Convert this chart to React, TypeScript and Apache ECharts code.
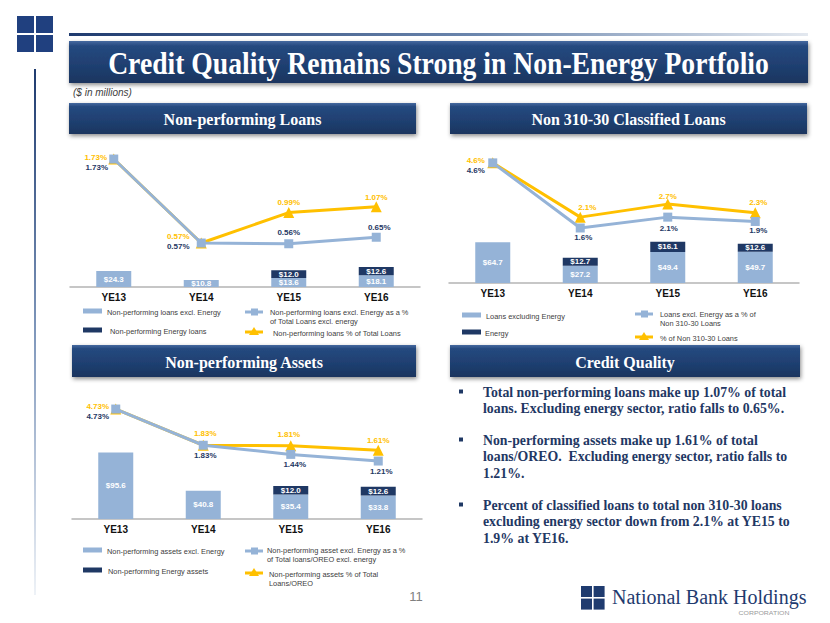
import React, { useEffect, useRef } from "react";
import * as echarts from "echarts";

// ---------- data ----------
const categories = ["YE13", "YE14", "YE15", "YE16"];

// Non-performing Loans ($ in millions, %)
const nplExEnergy = [24.3, 10.8, 13.6, 18.1];
const nplEnergy = [null, null, 12.0, 12.6];
const nplExEnergyPct = [1.73, 0.57, 0.56, 0.65];
const nplTotalPct = [1.73, 0.57, 0.99, 1.07];

// Non 310-30 Classified Loans
const clsExEnergy = [64.7, 27.2, 49.4, 49.7];
const clsEnergy = [null, 12.7, 16.1, 12.6];
const clsExEnergyPct = [4.6, 1.6, 2.1, 1.9];
const clsTotalPct = [4.6, 2.1, 2.7, 2.3];

// Non-performing Assets
const npaExEnergy = [95.6, 40.8, 35.4, 33.8];
const npaEnergy = [null, null, 12.0, 12.6];
const npaExEnergyPct = [4.73, 1.83, 1.44, 1.21];
const npaTotalPct = [4.73, 1.83, 1.81, 1.61];

const titleText = "Credit Quality Remains Strong in Non-Energy Portfolio";
const panelTitles = ["Non-performing Loans", "Non 310-30 Classified Loans", "Non-performing Assets", "Credit Quality"];
const bulletLines = [
  ["Total non-performing loans make up 1.07% of total", "loans. Excluding energy sector, ratio falls to 0.65%."],
  ["Non-performing assets make up 1.61% of total", "loans/OREO.  Excluding energy sector, ratio falls to", "1.21%."],
  ["Percent of classified loans to total non 310-30 loans", "excluding energy sector down from 2.1% at YE15 to", "1.9% at YE16."],
];
const legend1 = ["Non-performing loans excl. Energy", "Non-performing Energy loans", ["Non-performing loans excl. Energy as a %", "of Total Loans excl. energy"], ["Non-performing loans % of Total Loans"]];
const legend2 = ["Loans excluding Energy", "Energy", ["Loans excl. Energy as a % of", "Non 310-30 Loans"], ["% of Non 310-30 Loans"]];
const legend3 = ["Non-performing assets excl. Energy", "Non-performing Energy assets", ["Non-performing asset excl. Energy as a %", "of Total loans/OREO excl. energy"], ["Non-performing assets % of Total", "Loans/OREO"]];

// ---------- styles ----------
const LIGHT = "#95b3d7";
const NAVY = "#1f3864";
const YELLOW = "#ffc000";
const SANS = "Liberation Sans, Arial, sans-serif";
const SERIF = "Liberation Serif, Times New Roman, serif";
const LEG_FS = 7.4;

const labelOffsets = {
  c1b: [[-17, 8], [-23, 3], [0, -11], [3, -10]],
  c1y: [[-18, -2], [-23, -7], [0, -10], [0, -9]],
  c2b: [[-17, 8], [3, 10], [1, 11], [3, 9]],
  c2y: [[-17, -2], [7, -10], [0, -8], [3, -10]],
  c3b: [[-18, 7], [2, 10], [4, 10], [3, 10]],
  c3y: [[-18, -3], [2, -12], [-2, -11], [0, -10]],
};

function panelSeries(i: number, light: any[], dark: any[], exPct: number[], totPct: number[], dec: number, offB: number[][], offY: number[][]) {
  const barLabel = {
    show: true,
    position: "inside",
    color: "#fff",
    fontWeight: "bold",
    fontSize: 8,
    fontFamily: SANS,
    formatter: (p: any) => "$" + Number(p.value).toFixed(1),
  };
  const pctFmt = (p: any) => Number(p.value).toFixed(dec) + "%";
  return [
    {
      type: "bar", xAxisIndex: i, yAxisIndex: 2 * i, stack: "s" + i, barWidth: 35,
      data: light, itemStyle: { color: LIGHT }, label: barLabel, z: 2,
    },
    {
      type: "bar", xAxisIndex: i, yAxisIndex: 2 * i, stack: "s" + i, barWidth: 35,
      data: dark.map((v) => (v == null ? "-" : v)), itemStyle: { color: NAVY }, label: barLabel, z: 2,
    },
    {
      type: "line", xAxisIndex: i, yAxisIndex: 2 * i + 1, z: 3,
      data: totPct.map((v, j) => ({ value: v, label: { offset: offY[j] } })),
      symbol: "triangle", symbolSize: 11,
      lineStyle: { color: YELLOW, width: 3 }, itemStyle: { color: YELLOW },
      label: { show: true, position: "inside", color: YELLOW, fontWeight: "bold", fontSize: 8, fontFamily: SANS, formatter: pctFmt },
    },
    {
      type: "line", xAxisIndex: i, yAxisIndex: 2 * i + 1, z: 4,
      data: exPct.map((v, j) => ({ value: v, label: { offset: offB[j] } })),
      symbol: "rect", symbolSize: 9,
      lineStyle: { color: LIGHT, width: 3 }, itemStyle: { color: LIGHT },
      label: { show: true, position: "inside", color: NAVY, fontWeight: "bold", fontSize: 8, fontFamily: SANS, formatter: pctFmt },
    },
  ];
}

function bannerFill() {
  return new echarts.graphic.LinearGradient(0, 0, 0, 1, [
    { offset: 0, color: "#46699f" },
    { offset: 0.12, color: "#25497f" },
    { offset: 0.6, color: "#1f3f70" },
    { offset: 1, color: "#1a355f" },
  ]);
}

function banner(x: number, y: number, w: number, h: number, text: string, fontSize: number, scaleX = 1) {
  return [
    {
      type: "rect", shape: { x, y, width: w, height: h },
      style: { fill: bannerFill(), shadowBlur: 4, shadowOffsetX: 1, shadowOffsetY: 2, shadowColor: "rgba(0,0,0,0.45)" },
    },
    {
      type: "text", x: x + w / 2, y: y + h / 2 + 1, scaleX,
      style: {
        text, fill: "#ffffff", fontSize, fontWeight: "bold", fontFamily: SERIF,
        textAlign: "center", textVerticalAlign: "middle", align: "center", verticalAlign: "middle",
      },
    },
  ];
}

function txt(x: number, y: number, text: string, opts: any = {}) {
  return {
    type: "text", x, y,
    style: {
      text, fill: opts.fill || "#404040", fontSize: opts.fontSize || LEG_FS, fontWeight: opts.fontWeight || "normal",
      fontStyle: opts.fontStyle || "normal", fontFamily: opts.fontFamily || SANS,
      textAlign: opts.align || "left", align: opts.align || "left",
      textVerticalAlign: "middle", verticalAlign: "middle",
    },
    scaleX: opts.scaleX || 1,
  };
}

function legend(labels: any[], pos: any) {
  const els: any[] = [];
  els.push({ type: "rect", shape: { x: pos.bx, y: pos.y1 - 2.5, width: 19, height: 5 }, style: { fill: LIGHT } });
  els.push(txt(pos.tx1, pos.y1 + 1, labels[0]));
  els.push({ type: "rect", shape: { x: pos.bx, y: pos.y2 - 2.5, width: 19, height: 5 }, style: { fill: NAVY } });
  els.push(txt(pos.tx2, pos.y2 + 1, labels[1]));
  const lx = pos.lx;
  els.push({ type: "line", shape: { x1: lx, y1: pos.y3, x2: lx + 18, y2: pos.y3 }, style: { stroke: LIGHT, lineWidth: 3 } });
  els.push({ type: "rect", shape: { x: lx + 6, y: pos.y3 - 3.5, width: 7, height: 7 }, style: { fill: LIGHT } });
  labels[2].forEach((t: string, k: number) => els.push(txt(pos.tx3, pos.ty3 + k * 9.5, t)));
  els.push({ type: "line", shape: { x1: lx, y1: pos.y4, x2: lx + 18, y2: pos.y4 }, style: { stroke: YELLOW, lineWidth: 3 } });
  els.push({ type: "polygon", shape: { points: [[lx + 9, pos.y4 - 5], [lx + 14, pos.y4 + 3], [lx + 4, pos.y4 + 3]] }, style: { fill: YELLOW } });
  labels[3].forEach((t: string, k: number) => els.push(txt(pos.tx4, pos.ty4 + k * 9.5, t)));
  return els;
}

function logo(x: number, y: number, s: number, gap: number, color: string) {
  const els: any[] = [];
  for (let r = 0; r < 2; r++)
    for (let c = 0; c < 2; c++)
      els.push({ type: "rect", shape: { x: x + c * (s + gap), y: y + r * (s + gap), width: s, height: s }, style: { fill: color } });
  return els;
}

export default function App() {
  const ref = useRef<HTMLDivElement>(null);
  useEffect(() => {
    if (!ref.current) return;
    const chart = echarts.init(ref.current, null, { renderer: "svg" });

    const xAxisBase = (gridIndex: number) => ({
      type: "category", gridIndex, data: categories,
      axisLine: { show: true, lineStyle: { color: "#b4b4b4", width: 1.5 } },
      axisTick: { show: false },
      axisLabel: { color: "#111", fontWeight: "bold", fontSize: 10, fontFamily: SANS, margin: 5 },
      splitLine: { show: false },
    });
    const hiddenY = (gridIndex: number, min: number, max: number, type = "value") => ({
      type, gridIndex, min, max, show: false, splitLine: { show: false },
    });

    const graphic: any[] = [
      ...logo(17, 16, 17, 2, "#20407f"),
      {
        type: "rect", shape: { x: 69, y: 33, width: 739, height: 3 },
        style: {
          fill: new echarts.graphic.LinearGradient(0, 0, 1, 0, [
            { offset: 0, color: "#1f3b6f" }, { offset: 0.55, color: "#6b86ad" }, { offset: 1, color: "#e3e8ef" },
          ]),
        },
      },
      {
        type: "rect", shape: { x: 34, y: 69, width: 2, height: 526 },
        style: {
          fill: new echarts.graphic.LinearGradient(0, 0, 0, 1, [
            { offset: 0, color: "#1f3b6f" }, { offset: 0.5, color: "#7f97bb" }, { offset: 1, color: "#eef2f7" },
          ]),
        },
      },
      ...banner(69, 41, 739, 42, titleText, 32, 0.864),
      txt(73, 92, "($ in millions)", { fontSize: 10, fontStyle: "italic", fill: "#404040" }),
      ...banner(69, 103, 347, 31, panelTitles[0], 16),
      ...banner(450, 103, 357, 31, panelTitles[1], 16),
      ...banner(72, 345, 344, 32, panelTitles[2], 16),
      ...banner(450, 345, 350, 32, panelTitles[3], 16),
      ...legend(legend1, { bx: 83, y1: 311, tx1: 107, y2: 330, tx2: 110, lx: 245, y3: 312, tx3: 270, ty3: 312, y4: 332, tx4: 273, ty4: 333 }),
      ...legend(legend2, { bx: 462, y1: 315, tx1: 486, y2: 332, tx2: 485, lx: 635, y3: 314, tx3: 660, ty3: 314, y4: 337, tx4: 660, ty4: 338 }),
      ...legend(legend3, { bx: 83, y1: 550, tx1: 107, y2: 570, tx2: 108, lx: 245, y3: 551, tx3: 267, ty3: 550, y4: 573, tx4: 269, ty4: 574 }),
      txt(416, 596, "11", { fontSize: 13, fill: "#808080", align: "center" }),
      ...logo(581, 586, 11, 1.6, "#1f3b6f"),
      txt(612, 597, "National Bank Holdings", { fontSize: 20, fill: "#1f3b6f", fontFamily: SERIF }),
      txt(764, 613, "CORPORATION", { fontSize: 6, fill: "#9a9a9a", align: "center", scaleX: 1.15 }),
    ];

    const paraY = [392, 440, 505];
    bulletLines.forEach((lines, p) => {
      graphic.push({ type: "rect", shape: { x: 459, y: paraY[p] - 2.5, width: 4, height: 4 }, style: { fill: NAVY } });
      lines.forEach((t, k) => {
        graphic.push(txt(483, paraY[p] + k * 16.8, t, { fontSize: 13.8, fontWeight: "bold", fontFamily: SERIF, fill: NAVY }));
      });
    });

    const option: any = {
      animation: false,
      backgroundColor: "#ffffff",
      grid: [
        { left: 70, top: 140, width: 350, height: 147 },
        { left: 449, top: 140, width: 350, height: 143 },
        { left: 72, top: 385, width: 350, height: 134 },
      ],
      xAxis: [xAxisBase(0), xAxisBase(1), xAxisBase(2)],
      yAxis: [
        hiddenY(0, 0, 224.4),
        hiddenY(0, -0.0373, 1.993),
        hiddenY(1, 0, 227),
        hiddenY(1, -0.935, 5.654),
        hiddenY(2, 0, 192.8),
        { type: "log", gridIndex: 2, min: 0.2646, max: 8.887, logBase: 10, show: false, splitLine: { show: false } },
      ],
      series: [
        ...panelSeries(0, nplExEnergy, nplEnergy, nplExEnergyPct, nplTotalPct, 2, labelOffsets.c1b, labelOffsets.c1y),
        ...panelSeries(1, clsExEnergy, clsEnergy, clsExEnergyPct, clsTotalPct, 1, labelOffsets.c2b, labelOffsets.c2y),
        ...panelSeries(2, npaExEnergy, npaEnergy, npaExEnergyPct, npaTotalPct, 2, labelOffsets.c3b, labelOffsets.c3y),
      ],
      graphic,
    };
    chart.setOption(option);
    return () => chart.dispose();
  }, []);

  return (
    <div
      ref={ref}
      style={{ position: "fixed", left: 0, top: 0, width: 830, height: 623, background: "#fff" }}
    />
  );
}
